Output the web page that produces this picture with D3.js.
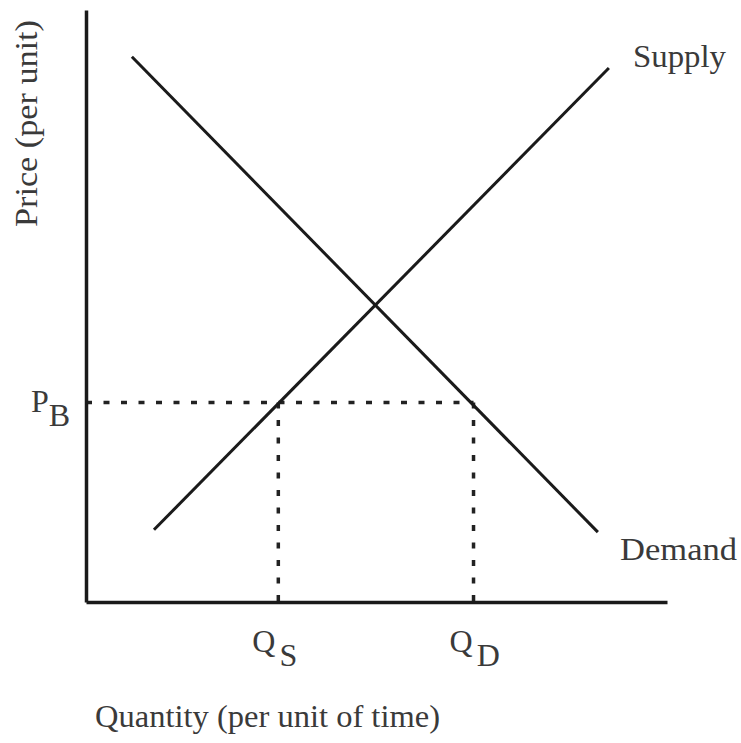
<!DOCTYPE html>
<html>
<head>
<meta charset="utf-8">
<script src="https://cdn.jsdelivr.net/npm/d3@7"></script>
<style>
  body { margin: 0; background: #fff; }
  text { font-family: "Liberation Serif", "Times New Roman", serif; fill: #3a3a3a; }
</style>
</head>
<body>
<div id="chart"></div>
<script>
// Quantity / price in arbitrary units
const demandQ = [0.79, 8.81];
const demandP = [9.21, 1.18];
const supplyQ = [1.17, 9.0];
const supplyP = [1.22, 9.02];

const priceB = 3.37;     // P_B
const qtySupplied = 3.31; // Q_S
const qtyDemanded = 6.67; // Q_D

const curveLabels = ["Supply", "Demand"];
const axisTitles = ["Price (per unit)", "Quantity (per unit of time)"];

const width = 741, height = 743;

const x = d3.scaleLinear().domain([0, 10]).range([86, 667]);
const y = d3.scaleLinear().domain([0, 10]).range([602, 10]);

const svg = d3.select("#chart")
    .append("svg")
    .attr("width", width)
    .attr("height", height);

const line = d3.line()
    .x(d => x(d[0]))
    .y(d => y(d[1]));

// dotted guide lines
const dash = "6 11.5";
svg.append("line")
    .attr("x1", x(0)).attr("x2", x(qtyDemanded))
    .attr("y1", y(priceB)).attr("y2", y(priceB))
    .attr("stroke", "#222").attr("stroke-width", 3.5)
    .attr("stroke-dasharray", dash);

[qtySupplied, qtyDemanded].forEach(q => {
    svg.append("line")
        .attr("x1", x(q)).attr("x2", x(q))
        .attr("y1", y(priceB)).attr("y2", y(0))
        .attr("stroke", "#222").attr("stroke-width", 3.5)
        .attr("stroke-dasharray", dash);
});

// curves
svg.append("path")
    .datum(d3.zip(demandQ, demandP))
    .attr("d", line)
    .attr("fill", "none")
    .attr("stroke", "#1a1a1a")
    .attr("stroke-width", 3);

svg.append("path")
    .datum(d3.zip(supplyQ, supplyP))
    .attr("d", line)
    .attr("fill", "none")
    .attr("stroke", "#1a1a1a")
    .attr("stroke-width", 3);

// Axes (no ticks, just the domain lines)
svg.append("g")
    .attr("transform", "translate(0," + y(0) + ")")
    .call(d3.axisBottom(x).tickValues([]).tickSizeOuter(0))
    .select(".domain")
    .attr("stroke", "#1a1a1a")
    .attr("stroke-width", 3.5);

svg.append("g")
    .attr("transform", "translate(" + x(0) + ",0)")
    .call(d3.axisLeft(y).tickValues([]).tickSizeOuter(0))
    .select(".domain")
    .attr("stroke", "#1a1a1a")
    .attr("stroke-width", 3.5);

// curve labels
svg.append("text")
    .attr("x", 633).attr("y", 67)
    .attr("textLength", 93).attr("lengthAdjust", "spacingAndGlyphs")
    .style("font-size", "32px")
    .text(curveLabels[0]);

svg.append("text")
    .attr("x", 620).attr("y", 560)
    .attr("textLength", 117).attr("lengthAdjust", "spacingAndGlyphs")
    .style("font-size", "32px")
    .text(curveLabels[1]);

// subscript labels
function subLabel(tx, ty, main, sub, gap) {
    const t = svg.append("text")
        .attr("x", tx).attr("y", ty)
        .style("font-size", "32px");
    t.append("tspan").text(main);
    t.append("tspan").attr("dx", gap).attr("dy", 14).text(sub);
}

subLabel(x(0) - 55, y(priceB) + 10, "P", "B", 0);
subLabel(x(qtySupplied) - 26, 652, "Q", "S", 4);
subLabel(x(qtyDemanded) - 24, 652, "Q", "D", 4);

// axis titles
svg.append("text")
    .attr("transform", "translate(37," + 227 + ") rotate(-90)")
    .attr("textLength", 207).attr("lengthAdjust", "spacingAndGlyphs")
    .style("font-size", "32px")
    .text(axisTitles[0]);

svg.append("text")
    .attr("x", 95).attr("y", 727)
    .attr("textLength", 345).attr("lengthAdjust", "spacingAndGlyphs")
    .style("font-size", "31px")
    .text(axisTitles[1]);
</script>
</body>
</html>
